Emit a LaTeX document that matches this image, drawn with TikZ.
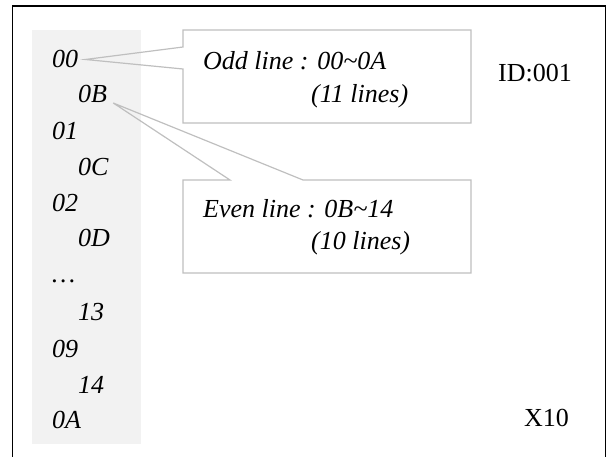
\documentclass[tikz,border=0pt]{standalone}
\usepackage{fontspec}
\setmainfont{Liberation Serif}
\definecolor{calloutgray}{HTML}{BFBFBF}
\definecolor{panelgray}{HTML}{F2F2F2}
\tikzset{
  linelbl/.style={anchor=base west, inner sep=0pt, font=\fontsize{26}{30}\selectfont\itshape},
  notetxt/.style={anchor=base west, inner sep=0pt, font=\fontsize{26}{30}\selectfont\itshape},
  tagtxt/.style={anchor=base west, inner sep=0pt, font=\fontsize{26}{30}\selectfont},
  callout/.style={draw=calloutgray, line width=1.2pt}
}
\begin{document}
\begin{tikzpicture}[x=1pt, y=-1pt]
    \useasboundingbox (0,0) rectangle (608,457);

    % Frame
    \draw[line width=1.5pt] (12.5,457) -- (12.5,6) -- (605.5,6) -- (605.5,457);

    % Line list
    \fill[panelgray] (32,30) rectangle (141,444);
    \foreach \name/\txt/\y in {00/00/68, 01/01/140, 02/02/212, dots/\dots/283, 09/09/357, 0A/0A/428}
        \node[linelbl] (t\name) at (52,\y) {\txt};
    \foreach \name/\y in {0B/103, 0C/176, 0D/247, 13/320, 14/393}
        \node[linelbl] (t\name) at (78,\y) {\name};

    % Odd line callout
    \draw[callout] (183,47) |- (471,30) |- (183,123) -- (183,69) -- ([xshift=7pt]t00.east) -- cycle;
    \node[notetxt] (odd1) at (203,70) {Odd line : 00\textasciitilde 0A};
    \node[notetxt] (odd2) at (311,103) {(11 lines)};

    % Even line callout
    \draw[callout] (303,180) -| (471,273) -| (183,180) -- (230,180) -- ([xshift=6pt]t0B.base east) -- cycle;
    \node[notetxt] (even1) at (203,218) {Even line : 0B\textasciitilde 14};
    \node[notetxt] (even2) at (311,250) {(10 lines)};

    % Tags
    \node[tagtxt] (id) at (498,82) {ID:001};
    \node[tagtxt] (scale) at (524,426) {X10};

\end{tikzpicture}
\end{document}
